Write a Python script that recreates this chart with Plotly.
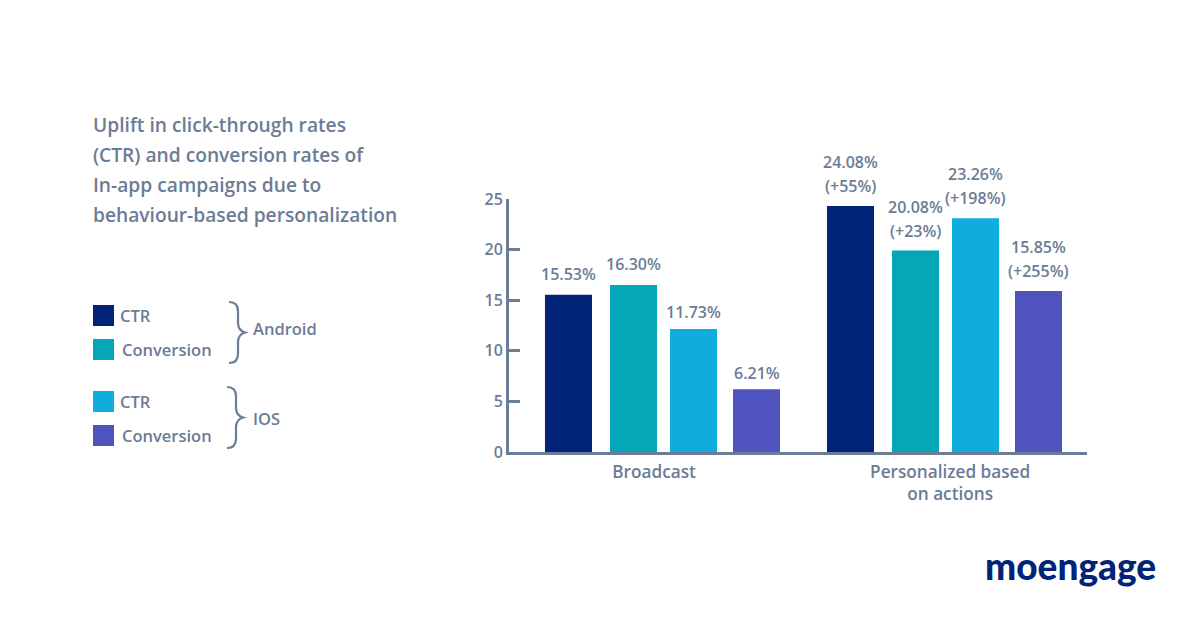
import plotly.graph_objects as go

W, H = 1200, 628
INK = "#6b7c95"
FONT = "Open Sans"
WEIGHT = 600

groups = ["Broadcast", "Personalized based<br>on actions"]
series = ["Android CTR", "Android Conversion", "iOS CTR", "iOS Conversion"]
# bar heights as drawn in the picture (they differ slightly from the printed labels)
android_ctr = [15.53, 24.3]
android_conv = [16.5, 19.9]
ios_ctr = [12.15, 23.1]
ios_conv = [6.21, 15.9]
values = [android_ctr, android_conv, ios_ctr, ios_conv]
labels_top = [["15.53%", "24.08%"], ["16.30%", "20.08%"], ["11.73%", "23.26%"], ["6.21%", "15.85%"]]
labels_uplift = [[None, "(+55%)"], [None, "(+23%)"], [None, "(+198%)"], [None, "(+255%)"]]
colors = ["#012479", "#04a6b8", "#0fadde", "#4f53bd"]
y_ticks = [0, 5, 10, 15, 20, 25]
title_lines = ["Uplift in click-through rates", "(CTR) and conversion rates of",
               "In-app campaigns due to", "behaviour-based personalization"]
logo_text = "moengage"

BAR_OFFSETS = [-0.4167, -0.186, 0.0266, 0.25]
BAR_WIDTH = 0.1667
SINGLE_LABEL_GAP = [9, 9, 5, 4]
G = [0, 1]

fig = go.Figure()
annotations, shapes = [], []
for name, vals, col, off, tops, ups, gap in zip(series, values, colors, BAR_OFFSETS, labels_top,
                                                labels_uplift, SINGLE_LABEL_GAP):
    fig.add_trace(go.Bar(x=G, y=vals, name=name, marker=dict(color=col, line_width=0),
                         width=BAR_WIDTH, offset=off, showlegend=False))
    for g, v, t, u in zip(G, vals, tops, ups):
        cx = g + off + BAR_WIDTH / 2
        if u:
            annotations.append(dict(x=cx, y=v, text=u, yshift=8, yanchor="bottom"))
            annotations.append(dict(x=cx, y=v, text=t, yshift=32, yanchor="bottom"))
        else:
            annotations.append(dict(x=cx, y=v, text=t, yshift=gap, yanchor="bottom"))
for a in annotations:
    a.update(xref="x", yref="y", showarrow=False, xanchor="center", borderpad=0,
             font=dict(family=FONT, size=16, color=INK, weight=WEIGHT))

def page_text(x, y, text, size=16, anchor="left", color=INK, family=FONT, weight=WEIGHT):
    annotations.append(dict(xref="x2", yref="y2", x=x, y=y, text=text, showarrow=False,
                            xanchor=anchor, yanchor="middle", borderpad=0,
                            font=dict(family=family, size=size, color=color, weight=weight)))

for i, line in enumerate(title_lines):
    page_text(92, 124 + i * 30, line, size=19.2)

def swatch(x, y, col):
    shapes.append(dict(type="rect", xref="x2", yref="y2", x0=x, x1=x + 21, y0=y, y1=y + 21,
                       fillcolor=col, line_width=0))

def brace(x, top, bot):
    mid = (top + bot) / 2
    shapes.append(dict(type="path", xref="x2", yref="y2", line=dict(color=INK, width=2.2),
        path=(f"M {x} {top} Q {x+9} {top} {x+9} {top+9} L {x+9} {mid-10} Q {x+9} {mid-2} {x+16} {mid} "
              f"Q {x+9} {mid+2} {x+9} {mid+10} L {x+9} {bot-9} Q {x+9} {bot} {x} {bot}")))

for yy, col, lab, lx in [(305, colors[0], "CTR", 119), (339, colors[1], "Conversion", 121),
                         (391, colors[2], "CTR", 119), (425, colors[3], "Conversion", 121)]:
    swatch(93, yy, col)
    page_text(lx, yy + 10, lab, size=16.5)
brace(229, 302, 363)
brace(227, 387, 448)
page_text(252, 328, "Android", size=16.5)
page_text(252, 418, "IOS", size=16.5)
page_text(1070, 565, logo_text, size=37, anchor="center", color=colors[0], family="Lato", weight=900)

TRANSPARENT = "rgba(0,0,0,0)"
fig.update_layout(
    width=W, height=H, margin=dict(l=0, r=0, t=0, b=0, pad=0, autoexpand=False),
    paper_bgcolor="white", plot_bgcolor=TRANSPARENT, barmode="overlay",
    annotations=annotations, shapes=shapes,
    font=dict(family=FONT, size=16, color=INK, weight=WEIGHT),
    xaxis=dict(domain=[509 / W, 1087 / W], range=[-0.5443, 1.5053], tickvals=[-0.03, 1.02],
               ticktext=groups, tickfont=dict(size=17.2), showgrid=False, zeroline=False,
               showline=True, linecolor=INK, linewidth=3, ticks="", ticklabelstandoff=2, anchor="y"),
    yaxis=dict(domain=[(H - 452) / H, (H - 199) / H], range=[0, 25], tickvals=y_ticks,
               showgrid=False, zeroline=False, showline=True, linecolor=INK, linewidth=3,
               ticks="inside", ticklen=11, tickwidth=3, tickcolor=INK, anchor="x"),
    xaxis2=dict(domain=[0, 1], range=[0, W], visible=False, anchor="y2"),
    yaxis2=dict(domain=[0, 1], range=[H, 0], visible=False, anchor="x2"),
)
# keep the page-level overlay axes active so their annotations and shapes resolve
fig.add_trace(go.Scatter(x=[0], y=[0], xaxis="x2", yaxis="y2", mode="markers",
                         marker=dict(opacity=0), hoverinfo="skip", showlegend=False))
fig.write_html("out.html", config=dict(displayModeBar=False),
               post_script="document.body.style.margin='0';")
